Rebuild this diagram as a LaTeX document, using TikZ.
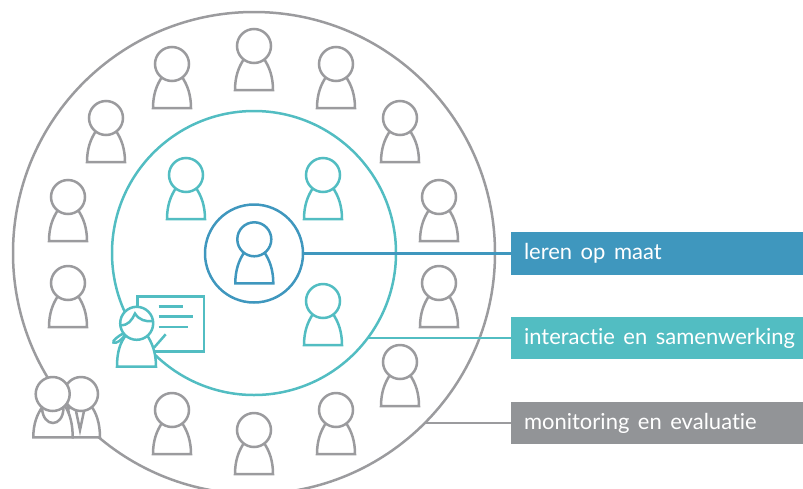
\documentclass[tikz,border=0pt]{standalone}
\usepackage{fontspec}
\setmainfont{Lato}[Ligatures=NoCommon]
\definecolor{cblue}{HTML}{3F97BE}
\definecolor{cteal}{HTML}{52BDC2}
\definecolor{cgray}{HTML}{929497}
\definecolor{lgray}{HTML}{9B9B9E}
\newcommand{\bartext}[1]{\makebox[266pt][l]{\raisebox{-2pt}{\spaceskip=8.5pt\relax #1}}}
\tikzset{
  lw/.style={line width=2.5pt},
  ring/.style={circle,draw,lw,inner sep=0pt,outer sep=0pt},
  barbox/.style={rectangle,inner ysep=0pt,inner xsep=13pt,outer sep=0pt,minimum width=292pt,anchor=west,text=white,font=\fontsize{22}{24}\selectfont},
  pics/person/.style={code={
    \draw[pic actions,lw,fill=white,line join=miter] (-19,44) -- (19,44) .. controls (19,31) and (15.5,21) .. (10,13) -- (-10,13) .. controls (-15.5,21) and (-19,31) .. (-19,44) -- cycle;
    \draw[pic actions,lw,fill=white] (0,0) circle (17);
  }}
}
\begin{document}
\begin{tikzpicture}[x=1pt,y=-1pt]
\useasboundingbox (0,0) rectangle (803,488);
\begin{scope}
\clip (0,0) rectangle (803,488);
\node[ring,draw=lgray,minimum size=482pt] (outer) at (254,253) {};
\end{scope}
\node[ring,draw=cteal,minimum size=284pt] (middle) at (254,253) {};
\node[ring,draw=cblue,fill=white,minimum size=98pt] (inner) at (254,253.5) {};

\node[barbox,fill=cblue,minimum height=43pt] (bar1) at (511,253.5) {\bartext{leren op maat}};
\node[barbox,fill=cteal,minimum height=42pt] (bar2) at (511,338) {\bartext{interactie en samenwerking}};
\node[barbox,fill=cgray,minimum height=42pt] (bar3) at (511,423) {\bartext{monitoring en evaluatie}};

\draw[lw,cblue] (inner.east) -- (bar1.west);
\draw[lw,cteal] (bar2.west) -- (bar2.west -| middle.-37);
\draw[lw,lgray] (bar3.west) -- (bar3.west -| outer.-45);

% outer ring people
\foreach \x/\y in {254/46,172/64,336/64,106/118,400/118,68/197,439/197,68/283,439/283,400/362,172/410,254/430,336/410}
  \pic[draw=lgray] at (\x,\y) {person};
% middle ring people
\foreach \x/\y in {186/175,323/175,323/301}
  \pic[draw=cteal] at (\x,\y) {person};
% centre person
\pic[draw=cblue] at (254.3,239.3) {person};

% teacher
\draw[lw,cteal,fill=white] (137.7,296.7) rectangle (204,351.7);
\draw[lw,cteal] (158.7,306.3) -- (183.3,306.3);
\draw[lw,cteal] (158.7,316.7) -- (193.3,316.7);
\draw[lw,cteal] (158.7,327) -- (188.3,327);
\draw[lw,cteal] (165.7,334.3) -- (154,347.7);
\draw[lw,cteal,fill=white] (117,366.7) -- (156,366.7) .. controls (156,352) and (152,343) .. (147,335) -- (126,335) .. controls (120,343) and (117,352) .. (117,366.7) -- cycle;
\draw[lw,cteal] (124,333) .. controls (118,336) and (112,341) .. (113.5,342.5) .. controls (116,344) and (122,340) .. (125,335);
\draw[lw,cteal,fill=white] (136.7,323.3) circle (16.5);
\draw[lw,cteal] (120.5,325) .. controls (128,326) and (132,320) .. (135,313.5) .. controls (139,320) and (146,322) .. (152.5,321);

% couple
\draw[lw,lgray,fill=white] (72.7,437.3) -- (100,437.3) .. controls (100,423) and (96,412) .. (91,406) -- (68,408) -- (72.7,437.3) -- cycle;
\draw[lw,lgray] (76,411) -- (80,430) -- (84,411);
\draw[lw,lgray,fill=white] (81,394) circle (17);
\draw[lw,lgray,fill=white] (33.3,437.3) -- (72.7,437.3) .. controls (72.7,424) and (70,414) .. (65,406) -- (43,406) .. controls (37,414) and (33.3,424) .. (33.3,437.3) -- cycle;
\draw[lw,lgray] (42,408) .. controls (43,428) and (63,428) .. (63.5,408);
\draw[lw,lgray,fill=white] (52.7,394) circle (17);
\end{tikzpicture}
\end{document}
